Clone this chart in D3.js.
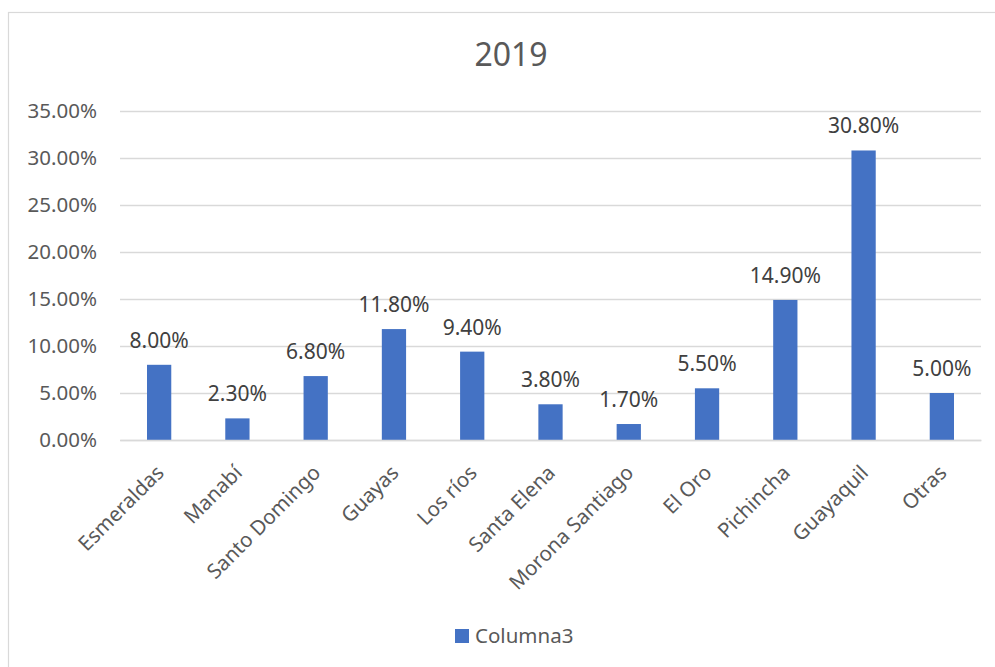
<!DOCTYPE html>
<html>
<head>
<meta charset="utf-8">
<script src="https://cdn.jsdelivr.net/npm/d3@7"></script>
<style>
  html, body { margin: 0; padding: 0; background: #fff; }
  svg { display: block; font-family: "Noto Sans", "Open Sans", sans-serif; }
</style>
</head>
<body>
<svg id="chart" width="995" height="667"></svg>
<script>
// Share by province, 2019
const categories = ["Esmeraldas", "Manabí", "Santo Domingo", "Guayas", "Los ríos",
  "Santa Elena", "Morona Santiago", "El Oro", "Pichincha", "Guayaquil", "Otras"];
const values = [0.080, 0.023, 0.068, 0.118, 0.094, 0.038, 0.017, 0.055, 0.149, 0.308, 0.050];
const yTicks = [0, 0.05, 0.10, 0.15, 0.20, 0.25, 0.30, 0.35];
const seriesName = "Columna3";
const title = "2019";

const svg = d3.select("#chart");
const W = 995, H = 667;
const plot = { left: 120, right: 981, top: 111, bottom: 440 };
const barColor = "#4472C4";
const gridColor = "#d9d9d9";
const axisText = "#595959";
const labelText = "#404040";
const fmt = d3.format(".2%");

// chart frame
svg.append("rect")
  .attr("x", 8.5).attr("y", 12.5)
  .attr("width", W).attr("height", H)
  .attr("fill", "#fff").attr("stroke", gridColor).attr("stroke-width", 1.2);

// title
svg.append("text")
  .attr("x", 511).attr("y", 66)
  .attr("text-anchor", "middle")
  .attr("font-size", 32).attr("fill", axisText)
  .text(title);

const x = d3.scaleBand().domain(categories)
  .range([plot.left, plot.right]).paddingInner(0.69).paddingOuter(0.345);
const y = d3.scaleLinear().domain([0, 0.35]).range([plot.bottom, plot.top]);

// gridlines + value axis labels
const yAxis = d3.axisLeft(y).tickValues(yTicks).tickFormat(fmt)
  .tickSize(-(plot.right - plot.left)).tickPadding(23);
const gy = svg.append("g").attr("transform", `translate(${plot.left},0)`).call(yAxis);
gy.select(".domain").remove();
gy.selectAll(".tick line").attr("stroke", gridColor).attr("stroke-width", 1.3);
gy.selectAll(".tick text")
  .attr("font-size", 20.5).attr("fill", axisText)
  .attr("font-family", "Noto Sans, sans-serif");

// bars
svg.append("g").selectAll("rect")
  .data(values)
  .join("rect")
  .attr("x", (d, i) => x(categories[i]))
  .attr("y", d => y(d))
  .attr("width", x.bandwidth())
  .attr("height", d => y(0) - y(d))
  .attr("fill", barColor);

// category axis
const xAxis = d3.axisBottom(x).tickSize(0).tickPadding(0);
const gx = svg.append("g").attr("transform", `translate(0,${plot.bottom})`).call(xAxis);
gx.select(".domain").attr("stroke", gridColor).attr("stroke-width", 1.5);
gx.selectAll(".tick text")
  .attr("font-size", 20.5).attr("fill", axisText)
  .attr("font-family", "Noto Sans, sans-serif")
  .attr("text-anchor", "end")
  .attr("dy", 0)
  .attr("y", 0)
  .attr("transform", "translate(6,34) rotate(-45)");

// value labels
svg.append("g").selectAll("text")
  .data(values)
  .join("text")
  .attr("x", (d, i) => x(categories[i]) + x.bandwidth() / 2)
  .attr("y", d => y(d) - 17)
  .attr("text-anchor", "middle")
  .attr("font-size", 21).attr("fill", labelText)
  .text(d => fmt(d));

// legend
const lg = svg.append("g").attr("transform", "translate(455,629)");
lg.append("rect").attr("width", 14).attr("height", 14).attr("fill", barColor);
lg.append("text").attr("x", 20).attr("y", 14)
  .attr("font-size", 20.5).attr("fill", axisText).text(seriesName);
</script>
</body>
</html>
